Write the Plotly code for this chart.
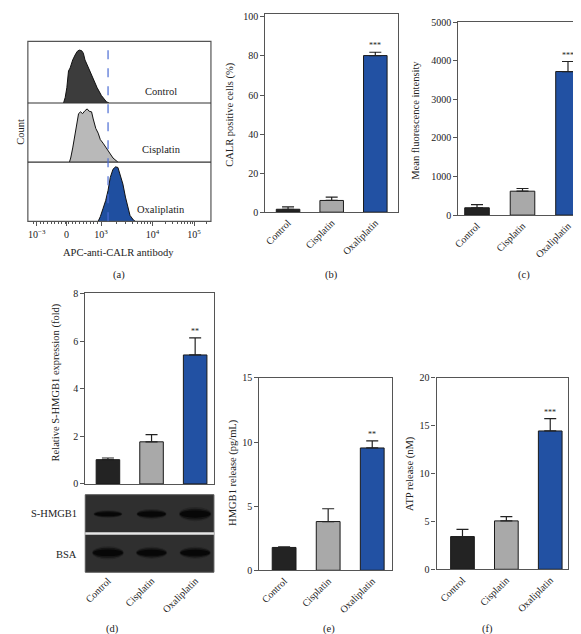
import math
import plotly.graph_objects as go

W, H = 581, 634
FONT = "Liberation Serif"
TXT = "#222222"
AX = "#555555"

groups = ["Control", "Cisplatin", "Oxaliplatin"]
bar_colors = ["#232323", "#a9a9a9", "#2251a3"]

# ---- (a) flow cytometry histograms (display channel 0-1000, count % of max)
ctrl_ch = [195, 204, 213, 222, 231, 245, 258, 270, 281, 294, 303, 312, 324, 339, 357, 378, 402, 429, 443]
ctrl_ct = [0, 9, 25, 52, 57, 70, 78, 84, 86, 85, 81, 70, 62, 52, 38, 25, 12, 2, 0]
cis_ch = [227, 234, 245, 258, 267, 277, 288, 299, 312, 324, 335, 348, 357, 371, 384, 396, 411, 429, 447, 465, 492]
cis_ct = [0, 7, 24, 46, 68, 82, 85, 82, 87, 90, 86, 85, 73, 57, 49, 38, 32, 24, 15, 7, 0]
oxa_ch = [384, 396, 411, 425, 438, 450, 465, 479, 492, 504, 519, 533, 546, 558, 577, 587]
oxa_ct = [0, 8, 22, 35, 52, 74, 88, 92, 91, 80, 63, 41, 22, 10, 2, 0]
hist_fill = ["#3c3c3c", "#b9b9b9", "#1f4fa0"]
gate_channel = 438
hist_tick_channels = [49, 211, 400, 681, 908]
hist_tick_labels = ["10<sup>−3</sup>", "0", "10<sup>3</sup>", "10<sup>4</sup>", "10<sup>5</sup>"]

# ---- bar panels
calr_pct = [1.5, 6.0, 80.2]
calr_err = [1.2, 1.7, 1.7]
mfi = [190, 620, 3720]
mfi_err = [80, 70, 260]
shmgb1_fold = [1.02, 1.77, 5.42]
shmgb1_err = [0.07, 0.30, 0.72]
hmgb1_release = [1.78, 3.80, 9.54]
hmgb1_err = [0.05, 1.00, 0.55]
atp_release = [3.42, 5.06, 14.46]
atp_err = [0.75, 0.45, 1.30]

# ---- western blot relative band density
shmgb1_band = [0.55, 0.72, 1.0]
bsa_band = [0.92, 0.85, 0.85]


def px(x):
    return x / W


def py(y):
    return 1 - y / H


def note(text, x, y, size=10.5, angle=0, xanchor="center"):
    return dict(text=text, xref="paper", yref="paper", x=px(x), y=py(y),
                xanchor=xanchor, yanchor="middle", textangle=angle,
                showarrow=False, font=dict(size=size))


fig = go.Figure()

# ---------------- panel (a)
hist_sets = [(ctrl_ch, ctrl_ct, "y"), (cis_ch, cis_ct, "y2"), (oxa_ch, oxa_ct, "y3")]
for i, (ch, ct, ya) in enumerate(hist_sets):
    fig.add_trace(go.Scatter(x=ch, y=ct, xaxis="x", yaxis=ya, mode="lines",
                             fill="tozeroy", fillcolor=hist_fill[i],
                             line=dict(color="#111111", width=1), hoverinfo="skip",
                             showlegend=False))

sub_bounds = [(28, 90.7), (90.7, 151), (151, 211.3)]

# minor ticks on the biexponential display axis
minor_vals = [30]
for k in range(1, 18):
    v = 49 + k * 19.4
    if v < 400:
        minor_vals.append(v)
for k in range(2, 10):
    minor_vals.append(400 + math.log10(k) * 281)
    minor_vals.append(681 + math.log10(k) * 227)
minor_vals.append(908 + math.log10(2) * 227)

layout = dict(
    width=W, height=H, margin=dict(l=0, r=0, t=0, b=0),
    paper_bgcolor="white", plot_bgcolor="rgba(0,0,0,0)",
    font=dict(family=FONT, size=10, color=TXT),
    showlegend=False,
)

layout["xaxis"] = dict(domain=[px(14), px(199)], range=[0, 1000], anchor="y3",
                       tickvals=hist_tick_channels, ticktext=hist_tick_labels,
                       ticks="outside", ticklen=4, tickcolor=AX, showline=True,
                       linecolor=AX, linewidth=1.2, showgrid=False, zeroline=False,
                       tickfont=dict(size=10),
                       minor=dict(tickvals=minor_vals, ticks="outside", ticklen=2,
                                  tickcolor=AX, showgrid=False))
for name, (t, b) in zip(["yaxis", "yaxis2", "yaxis3"], sub_bounds):
    layout[name] = dict(domain=[py(b), py(t)], range=[0, 100], anchor="x",
                        visible=False, fixedrange=True)

shapes = []
shapes.append(dict(type="rect", xref="paper", yref="paper", x0=px(14), x1=px(199),
                   y0=py(211.3), y1=py(28), line=dict(color=AX, width=1.2)))
for t, b in sub_bounds[:-1]:
    shapes.append(dict(type="line", xref="paper", yref="paper", x0=px(14), x1=px(199),
                       y0=py(b), y1=py(b), line=dict(color="#333333", width=1.2)))
shapes.append(dict(type="line", xref="x", yref="paper", x0=gate_channel, x1=gate_channel,
                   y0=py(211.3), y1=py(28), line=dict(color="#4a6cd4", width=1.2, dash="dash")))

annotations = []
for lab, yy in zip(groups, [79, 138, 199]):
    annotations.append(note(lab, 149, yy))
annotations.append(note("Count", 7, 120, angle=-90))
annotations.append(note("APC-anti-CALR antibody", 106, 243))
annotations.append(note("(a)", 106, 266))

# ---------------- bar panels
panels = [
    dict(ax="4", vals=calr_pct, err=calr_err, stars="***", x=(254, 388), y=(0, 202),
         yr=[0, 101.5], dtick=20, title="CALR positive cells (%)", tpos=(218, 102),
         xr=[-0.52, 2.52], label="(b)", lpos=(321, 266)),
    dict(ax="5", vals=mfi, err=mfi_err, stars="***", x=(449, 580), y=(8.3, 205),
         yr=[0, 5000], dtick=1000, title="Mean fluorescence intensity", tpos=(406, 108),
         xr=[-0.41, 2.44], label="(c)", lpos=(515, 266)),
    dict(ax="6", vals=shmgb1_fold, err=shmgb1_err, stars="**", x=(72, 202), y=(284, 479),
         yr=[0, 8.04], dtick=2, title="Relative S-HMGB1 expression (fold)", tpos=(42, 376),
         xr=[-0.52, 2.43], label="(d)", lpos=(100, 627)),
    dict(ax="8", vals=hmgb1_release, err=hmgb1_err, stars="**", x=(248, 382), y=(371, 567),
         yr=[0, 15], dtick=5, title="HMGB1 release (pg/mL)", tpos=(221, 467),
         xr=[-0.56, 2.45], label="(e)", lpos=(318, 627)),
    dict(ax="9", vals=atp_release, err=atp_err, stars="***", x=(427, 560), y=(371, 566),
         yr=[0, 20], dtick=5, title="ATP release (nM)", tpos=(400, 468),
         xr=[-0.59, 2.41], label="(f)", lpos=(478, 627)),
]

idx = [0, 1, 2]
for p in panels:
    a = p["ax"]
    fig.add_trace(go.Bar(x=idx, y=p["vals"], xaxis="x" + a, yaxis="y" + a, width=0.54,
                         marker=dict(color=bar_colors, line=dict(color="#1a1a1a", width=1)),
                         error_y=dict(type="data", symmetric=False, array=p["err"],
                                      arrayminus=[0, 0, 0], width=6, thickness=1.2,
                                      color="#222222"),
                         hoverinfo="skip", showlegend=False))
    show_cat = a != "6"
    layout["xaxis" + a] = dict(domain=[px(p["x"][0]), px(p["x"][1])], range=p["xr"],
                               anchor="y" + a, showline=True, linecolor=AX, linewidth=1.2,
                               mirror=True, ticks="", showgrid=False, zeroline=False,
                               tickvals=idx, ticktext=groups,
                               showticklabels=show_cat,
                               tickangle=-45, tickfont=dict(size=10))
    layout["yaxis" + a] = dict(domain=[py(p["y"][1]), py(p["y"][0])], range=p["yr"],
                               anchor="x" + a, showline=True, linecolor=AX, linewidth=1.2,
                               mirror=True, ticks="outside", ticklen=4, tickcolor=AX,
                               dtick=p["dtick"], tick0=0, showgrid=False, zeroline=False,
                               tickfont=dict(size=10))
    annotations.append(note(p["title"], p["tpos"][0], p["tpos"][1], angle=-90))
    annotations.append(dict(text=p["stars"], xref="x" + a, yref="y" + a, x=2,
                            y=p["vals"][2] + p["err"][2], xanchor="center",
                            yanchor="bottom", showarrow=False, font=dict(size=8)))
    annotations.append(note(p["label"], p["lpos"][0], p["lpos"][1]))

# ---------------- western blot under (d)
layout["xaxis7"] = dict(domain=[px(72), px(202)], range=[-0.52, 2.43], anchor="y7",
                        showline=False, ticks="", showgrid=False, zeroline=False,
                        tickvals=idx, ticktext=groups, tickangle=-45, tickfont=dict(size=10))
layout["yaxis7"] = dict(domain=[py(569), py(490)], range=[-0.5, 1.5], anchor="x7",
                        visible=False)
fig.add_trace(go.Scatter(x=[0, 2], y=[0, 1], xaxis="x7", yaxis="y7", mode="markers",
                         marker=dict(opacity=0), hoverinfo="skip", showlegend=False))
shapes.append(dict(type="rect", xref="x7 domain", yref="y7 domain", x0=0, x1=1, y0=0, y1=1,
                   fillcolor="#2f2f2f", line=dict(color="#555555", width=1), layer="below"))
shapes.append(dict(type="line", xref="x7 domain", yref="y7", x0=0, x1=1, y0=0.5, y1=0.5,
                   line=dict(color="#e6e6e6", width=2.5)))
for row, dens in [(1, shmgb1_band), (0, bsa_band)]:
    for i, d in enumerate(dens):
        hw = 0.27 + 0.09 * d
        hh = 0.14 * d
        for scale, col in [(1.3, "#262626"), (1.0, "#151515"), (0.65, "#070707")]:
            shapes.append(dict(type="circle", xref="x7", yref="y7",
                               x0=i - hw * (0.9 + 0.1 * scale), x1=i + hw * (0.9 + 0.1 * scale),
                               y0=row - hh * scale, y1=row + hh * scale,
                               fillcolor=col, line=dict(width=0)))
annotations.append(note("S-HMGB1", 66, 509, xanchor="right"))
annotations.append(note("BSA", 66, 551, xanchor="right"))

layout["shapes"] = shapes
layout["annotations"] = annotations
fig.update_layout(**layout)
fig.write_html("out.html")
